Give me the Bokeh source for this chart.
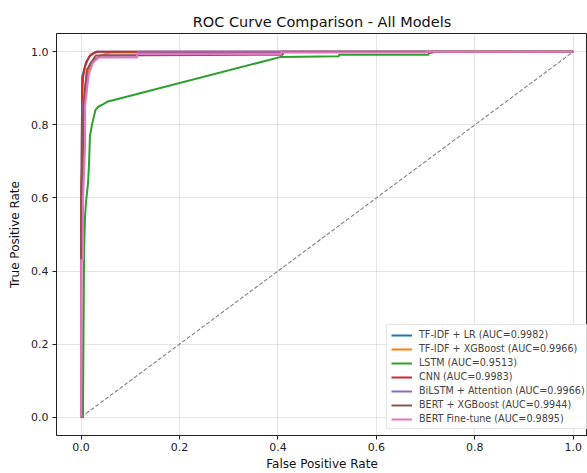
from bokeh.plotting import figure
from bokeh.models import Range1d, Legend, LegendItem
from bokeh.embed import file_html
from bokeh.resources import INLINE

# ---- data ----
model_names = ["TF-IDF + LR", "TF-IDF + XGBoost", "LSTM", "CNN",
               "BiLSTM + Attention", "BERT + XGBoost", "BERT Fine-tune"]
auc_values = [0.9982, 0.9966, 0.9513, 0.9983, 0.9966, 0.9944, 0.9895]

fpr_tfidf_lr = [0, 0, 0.002, 0.002, 0.006, 0.010, 0.016, 0.024, 0.030, 1.0]
tpr_tfidf_lr = [0, 0.40, 0.88, 0.93, 0.95, 0.97, 0.985, 0.995, 1.0, 1.0]

fpr_tfidf_xgb = [0, 0, 0.004, 0.006, 0.010, 0.012, 0.016, 0.020, 0.030, 0.040, 0.060, 1.0]
tpr_tfidf_xgb = [0, 0.55, 0.80, 0.86, 0.88, 0.92, 0.95, 0.97, 0.98, 0.99, 0.998, 1.0]

fpr_lstm = [0, 0.004, 0.004, 0.006, 0.008, 0.010, 0.014, 0.016, 0.018, 0.022, 0.029,
            0.035, 0.043, 0.053, 0.406, 0.524, 0.524, 0.706, 0.706, 0.720, 1.0]
tpr_lstm = [0, 0.0, 0.05, 0.45, 0.55, 0.59, 0.64, 0.69, 0.77, 0.80, 0.84,
            0.85, 0.855, 0.863, 0.986, 0.988, 0.992, 0.992, 0.995, 1.0, 1.0]

fpr_cnn = [0, 0, 0.002, 0.004, 0.008, 0.012, 0.018, 0.024, 0.032, 1.0]
tpr_cnn = [0, 0.45, 0.88, 0.93, 0.96, 0.975, 0.99, 0.995, 1.0, 1.0]

fpr_bilstm = [0, 0, 0.004, 0.004, 0.008, 0.012, 0.020, 0.030, 0.040, 0.115, 0.115, 1.0]
tpr_bilstm = [0, 0.42, 0.62, 0.85, 0.90, 0.95, 0.97, 0.98, 0.99, 0.99, 1.0, 1.0]

fpr_bert_xgb = [0, 0, 0, 0.004, 0.004, 0.008, 0.012, 0.020, 0.030, 0.410, 0.410, 1.0]
tpr_bert_xgb = [0, 0.44, 0.62, 0.75, 0.82, 0.90, 0.95, 0.97, 0.99, 0.992, 1.0, 1.0]

fpr_bert_ft = [0, 0, 0.004, 0.004, 0.008, 0.008, 0.012, 0.016, 0.024, 0.035,
               0.114, 0.114, 0.406, 0.406, 0.700, 0.700, 1.0]
tpr_bert_ft = [0, 0.43, 0.43, 0.60, 0.74, 0.85, 0.90, 0.94, 0.97, 0.984,
               0.984, 0.994, 0.994, 0.998, 0.998, 1.0, 1.0]

diag_x = [0, 1]
diag_y = [0, 1]

x_ticks = [0.0, 0.2, 0.4, 0.6, 0.8, 1.0]
y_ticks = [0.0, 0.2, 0.4, 0.6, 0.8, 1.0]

fprs = [fpr_tfidf_lr, fpr_tfidf_xgb, fpr_lstm, fpr_cnn, fpr_bilstm, fpr_bert_xgb, fpr_bert_ft]
tprs = [tpr_tfidf_lr, tpr_tfidf_xgb, tpr_lstm, tpr_cnn, tpr_bilstm, tpr_bert_xgb, tpr_bert_ft]
colors = ["#1f77b4", "#ff7f0e", "#2ca02c", "#d62728", "#9467bd", "#8c564b", "#e377c2"]

FONT = "DejaVu Sans"

p = figure(width=587, height=473, output_backend="svg", toolbar_location=None,
           x_range=Range1d(-0.05, 1.029), y_range=Range1d(-0.05, 1.05),
           title="ROC Curve Comparison - All Models",
           min_border_left=56, min_border_right=0, min_border_top=33, min_border_bottom=0)

p.title.align = "center"
p.title.text_font = FONT
p.title.text_font_size = "14.5px"
p.title.text_font_style = "normal"
p.title.text_color = "#111111"
p.title.standoff = 7

p.outline_line_color = "#222222"
p.outline_line_width = 1
p.background_fill_color = "white"
p.border_fill_color = "white"

for ax in (p.xaxis, p.yaxis):
    ax.axis_label_text_font = FONT
    ax.axis_label_text_font_size = "12px"
    ax.axis_label_text_font_style = "normal"
    ax.axis_label_text_color = "#111111"
    ax.major_label_text_font = FONT
    ax.major_label_text_font_size = "11px"
    ax.major_label_text_color = "#222222"
    ax.minor_tick_line_color = None
    ax.major_tick_out = 4
    ax.major_tick_in = 0
    ax.axis_line_color = "#222222"
    ax.major_tick_line_color = "#222222"

p.xaxis.axis_label = "False Positive Rate"
p.yaxis.axis_label = "True Positive Rate"
p.xaxis.ticker = x_ticks
p.yaxis.ticker = y_ticks
p.xaxis.major_label_overrides = {t: f"{t:.1f}" for t in x_ticks}
p.yaxis.major_label_overrides = {t: f"{t:.1f}" for t in y_ticks}
p.xaxis.axis_label_standoff = 3
p.yaxis.axis_label_standoff = 6
p.xaxis.major_label_standoff = 3
p.yaxis.major_label_standoff = 4

p.grid.grid_line_color = "#000000"
p.grid.grid_line_alpha = 0.1

items = []
for name, auc, fx, ty, c in zip(model_names, auc_values, fprs, tprs, colors):
    r = p.line(fx, ty, line_color=c, line_width=2)
    items.append(LegendItem(label=f"{name} (AUC={auc:.4f})", renderers=[r]))

p.line(diag_x, diag_y, line_color="#808080", line_width=1.1, line_dash="4 2")

legend = Legend(items=items, location=(330, 6))
legend.label_text_font = FONT
legend.label_text_font_size = "9.6px"
legend.glyph_width = 21
legend.glyph_height = 10
legend.label_height = 10
legend.label_standoff = 7
legend.spacing = 3
legend.padding = 4
legend.margin = 0
legend.border_line_color = "#cccccc"
legend.background_fill_alpha = 0.8
p.add_layout(legend)

open("out.html", "w").write(file_html(p, INLINE))
